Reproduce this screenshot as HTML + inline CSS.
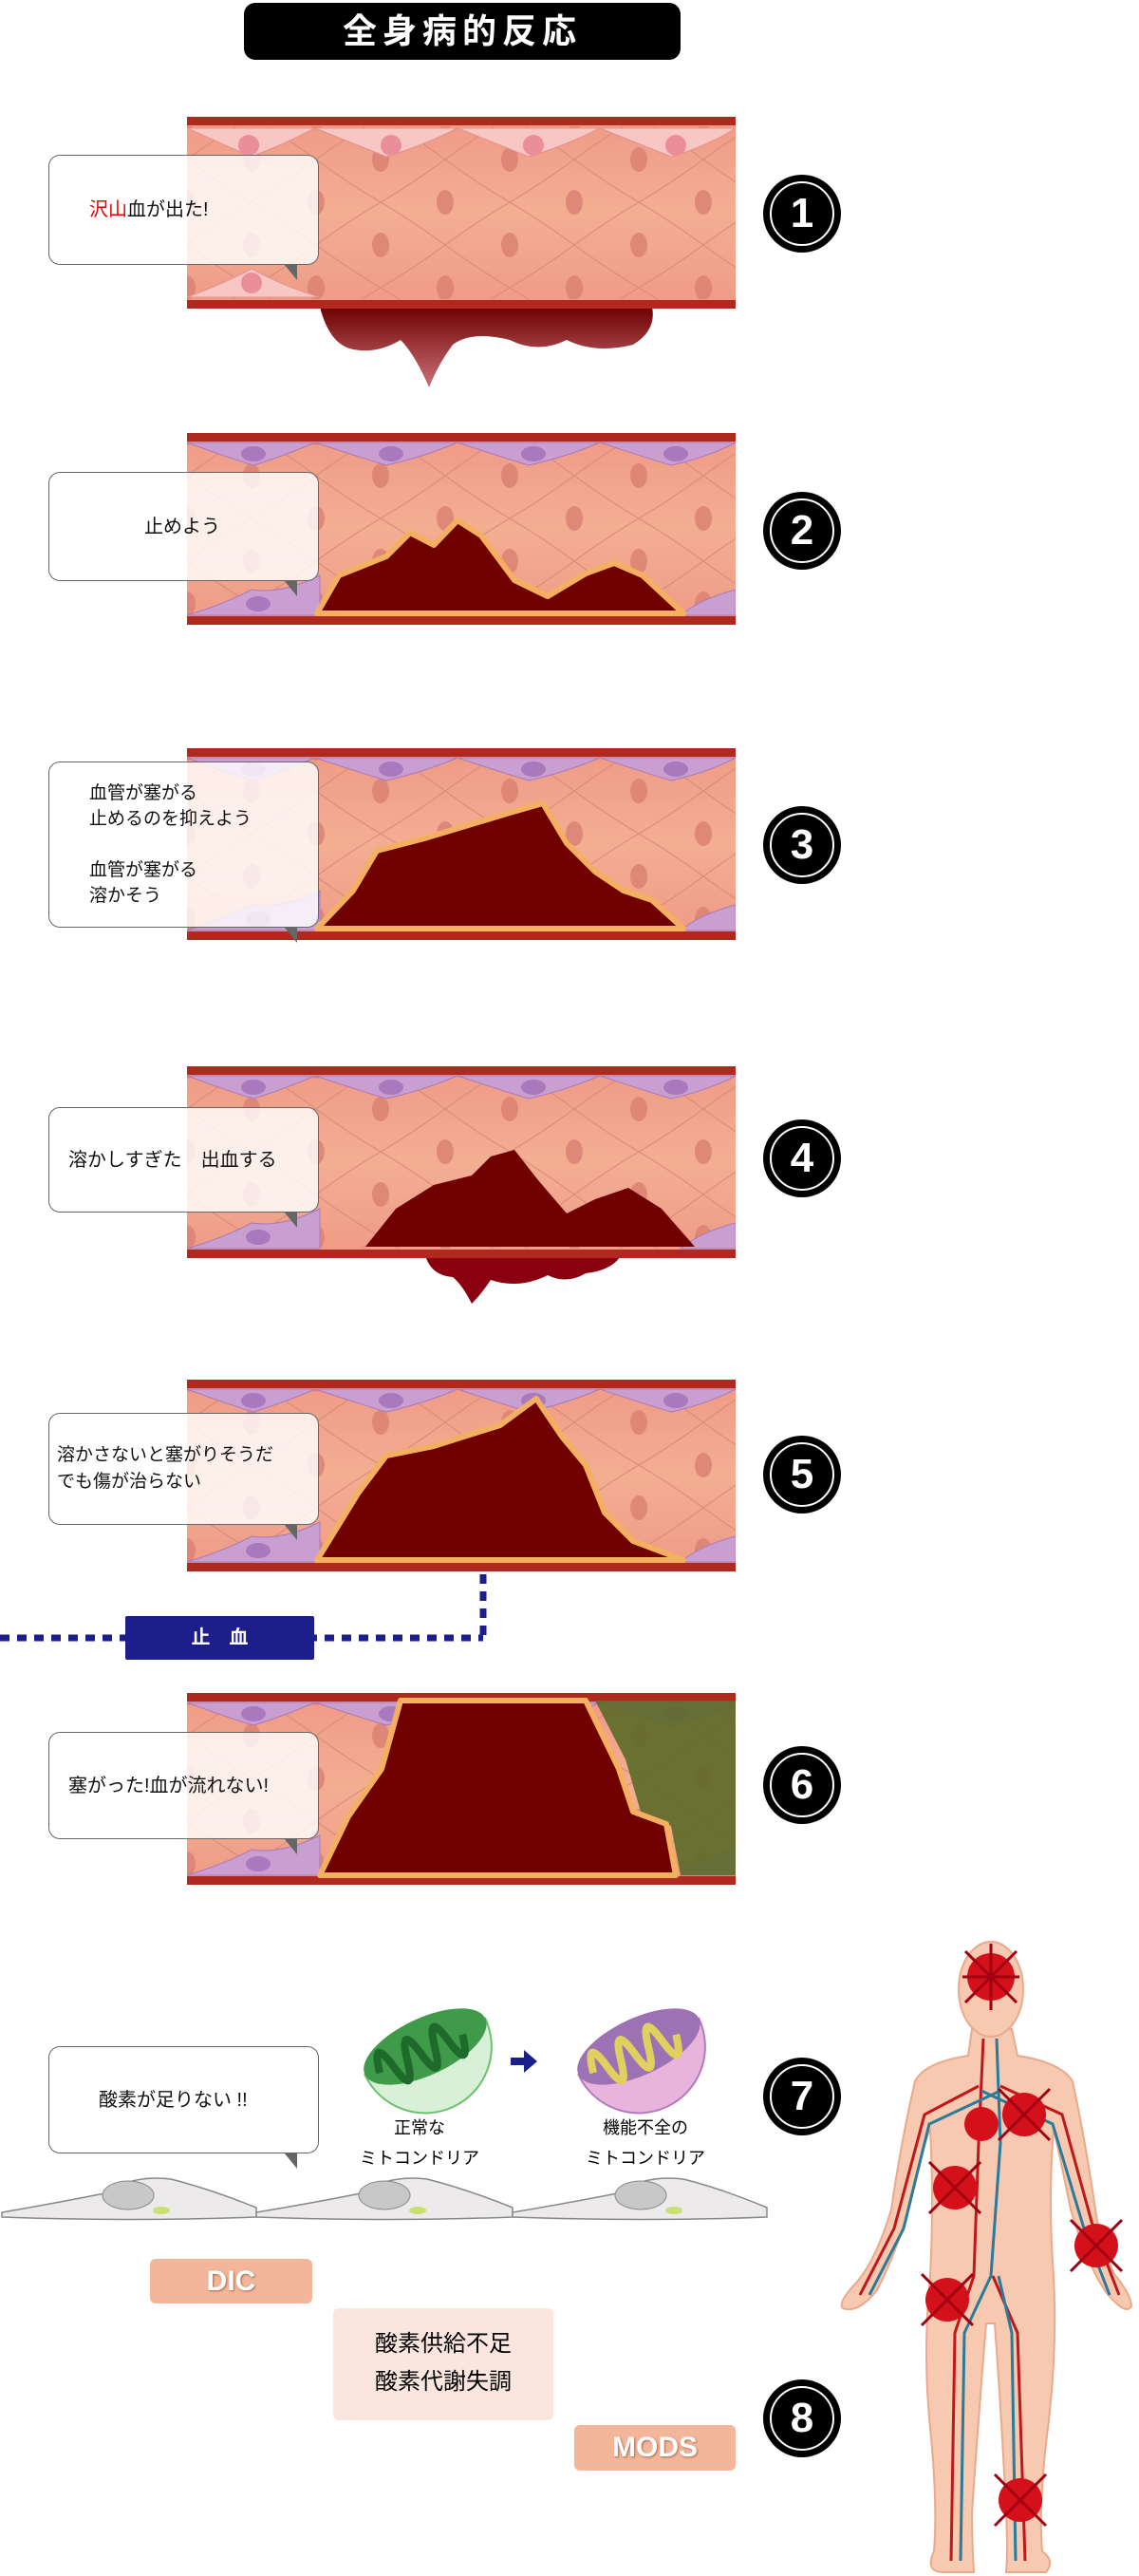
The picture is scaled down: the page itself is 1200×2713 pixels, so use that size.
<!DOCTYPE html>
<html><head><meta charset="utf-8">
<style>
body{margin:0;width:1200px;height:2713px;background:#fff;position:relative;overflow:hidden;font-family:"Liberation Sans","Noto Sans CJK JP",sans-serif;}
.abs{position:absolute}
.title{left:257px;top:3px;width:460px;height:60px;background:#000;border-radius:12px;color:#fff;font-size:36px;font-weight:bold;text-align:center;line-height:60px;letter-spacing:6px}
.v{position:absolute;left:197px;width:578px;height:202px}
.bub{position:absolute;left:51px;width:285px;background:rgba(255,255,255,0.82);border:1.5px solid #666;border-radius:12px;font-size:20px;color:#111;display:flex;align-items:center;box-sizing:border-box;padding-left:20px;line-height:28px}
.bub:after{content:"";position:absolute;right:22px;bottom:-17px;width:0;height:0;border-left:14px solid transparent;border-top:17px solid #666}
.num{position:absolute;left:804px;width:82px;height:82px;border-radius:50%;background:#000}
.num div{position:absolute;left:7px;top:7px;width:64px;height:64px;border:2px solid #fff;border-radius:50%;color:#fff;font-size:44px;font-weight:bold;text-align:center;line-height:64px}
.tag{position:absolute;background:#f3b69b;color:#fff;font-weight:bold;font-size:30px;text-align:center;border-radius:6px;text-shadow:1px 1px 2px #a06a50}
</style></head><body>
<svg width="0" height="0" style="position:absolute">
<defs>
<linearGradient id="vg" x1="0" y1="0" x2="0" y2="1"><stop offset="0" stop-color="#ef9a86"/><stop offset="0.5" stop-color="#f3ae92"/><stop offset="1" stop-color="#ef9a86"/></linearGradient>
<pattern id="lat" width="136" height="90" patternUnits="userSpaceOnUse"><path d="M0 45 Q34 20 68 0 M68 0 Q102 20 136 45 M0 45 Q34 70 68 90 M68 90 Q102 70 136 45" fill="none" stroke="#d98a78" stroke-width="1.2"/><ellipse cx="68" cy="45" rx="9" ry="13" fill="#dc8474"/><ellipse cx="0" cy="0" rx="9" ry="13" fill="#dc8474"/><ellipse cx="136" cy="0" rx="9" ry="13" fill="#dc8474"/><ellipse cx="0" cy="90" rx="9" ry="13" fill="#dc8474"/><ellipse cx="136" cy="90" rx="9" ry="13" fill="#dc8474"/></pattern>
<symbol id="bg" viewBox="0 0 578 202"><rect width="578" height="202" fill="url(#vg)"/><rect y="10" width="578" height="182" fill="url(#lat)" opacity="0.9"/><rect width="578" height="9" fill="#b0291f"/><rect y="193" width="578" height="9" fill="#b0291f"/></symbol>
<symbol id="pink" viewBox="0 0 578 202">
<g fill="#f7c7c4" stroke="#e58f8f" stroke-width="1"><path d="M0 12 Q40 30 68 42 Q100 30 135 12Z"/><path d="M135 12 Q180 30 210 42 Q250 30 285 12Z"/><path d="M285 12 Q330 30 360 42 Q400 30 435 12Z"/><path d="M435 12 Q480 30 510 42 Q550 30 578 12Z"/><path d="M0 190 Q40 175 68 160 Q100 178 140 190Z"/></g>
<g fill="#ea8e9a"><circle cx="65" cy="30" r="11"/><circle cx="215" cy="30" r="11"/><circle cx="365" cy="30" r="11"/><circle cx="515" cy="30" r="11"/><circle cx="68" cy="175" r="11"/></g></symbol>
<symbol id="purp" viewBox="0 0 578 202">
<g fill="#c99fd2" stroke="#a979b8" stroke-width="1"><path d="M0 10 Q40 25 70 34 Q100 25 135 10Z"/><path d="M135 10 Q180 25 210 34 Q250 25 285 10Z"/><path d="M285 10 Q330 25 360 34 Q400 25 435 10Z"/><path d="M435 10 Q480 25 510 34 Q550 25 578 10Z"/><path d="M0 192 Q40 180 68 165 Q100 170 140 150 L140 192Z"/><path d="M520 192 Q540 175 578 165 L578 192Z"/></g>
<g fill="#a978bd"><ellipse cx="70" cy="22" rx="13" ry="8"/><ellipse cx="215" cy="22" rx="13" ry="8"/><ellipse cx="365" cy="22" rx="13" ry="8"/><ellipse cx="515" cy="22" rx="13" ry="8"/><ellipse cx="75" cy="180" rx="13" ry="8"/></g></symbol>
</defs></svg>

<div class="abs title">全身病的反応</div>

<!-- panel 1 -->
<svg class="v" style="top:123px;height:290px" viewBox="0 0 578 290">
<defs><linearGradient id="bl" x1="0" y1="0" x2="0" y2="1"><stop offset="0" stop-color="#6a0000"/><stop offset="1" stop-color="#a0101a" stop-opacity="0.6"/></linearGradient></defs>
<path d="M140 200 L490 200 Q495 225 470 240 Q430 250 400 235 Q370 250 340 235 Q300 225 280 240 Q265 260 255 285 Q240 250 225 235 Q200 250 175 245 Q150 240 140 200Z" fill="url(#bl)"/>
<use href="#bg" width="578" height="202"/><use href="#pink" width="578" height="202"/></svg>
<div class="bub" style="top:163px;height:116px"><span style="margin-left:22px"><span style="color:#e00">沢山</span>血が出た!</span></div>
<div class="num" style="top:184px"><div>1</div></div>

<!-- panel 2 -->
<svg class="v" style="top:456px" viewBox="0 0 578 202"><use href="#bg" width="578" height="202"/><use href="#purp" width="578" height="202"/>
<path d="M137 190 L160 150 L210 130 L235 105 L260 118 L285 92 L310 108 L345 155 L380 172 L420 148 L450 137 L480 150 L523 190Z" fill="#700000" stroke="#f4b060" stroke-width="6" stroke-linejoin="round"/></svg>
<div class="bub" style="top:497px;height:115px;padding-left:100px">止めよう</div>
<div class="num" style="top:518px"><div>2</div></div>

<!-- panel 3 -->
<svg class="v" style="top:788px" viewBox="0 0 578 202"><use href="#bg" width="578" height="202"/><use href="#purp" width="578" height="202"/>
<path d="M137 190 L175 150 L200 108 L250 95 L300 80 L340 68 L375 58 L400 100 L430 130 L460 150 L490 160 L523 190Z" fill="#700000" stroke="#f4b060" stroke-width="6" stroke-linejoin="round"/></svg>
<div class="bub" style="top:802px;height:175px;padding-left:42px;font-size:19px;line-height:27px">血管が塞がる<br>止めるのを抑えよう<br><br>血管が塞がる<br>溶かそう</div>
<div class="num" style="top:849px"><div>3</div></div>

<!-- panel 4 -->
<svg class="v" style="top:1123px;height:260px" viewBox="0 0 578 260">
<path d="M250 195 L460 195 Q450 215 420 218 Q400 230 380 220 Q350 235 320 225 Q310 240 300 250 Q290 230 280 222 Q255 220 250 195Z" fill="#8a0010"/>
<use href="#bg" width="578" height="202"/><use href="#purp" width="578" height="202"/>
<path d="M188 190 L220 150 L260 125 L300 115 L320 95 L345 88 L370 120 L400 155 L430 140 L465 128 L500 150 L535 190Z" fill="#700000"/></svg>
<div class="bub" style="top:1166px;height:111px;padding-left:20px">溶かしすぎた　出血する</div>
<div class="num" style="top:1179px"><div>4</div></div>

<!-- panel 5 -->
<svg class="v" style="top:1453px" viewBox="0 0 578 202"><use href="#bg" width="578" height="202"/><use href="#purp" width="578" height="202"/>
<path d="M137 190 L180 120 L210 80 L260 70 L330 48 L368 20 L395 60 L420 90 L440 140 L470 170 L523 190Z" fill="#700000" stroke="#f4b060" stroke-width="6" stroke-linejoin="round"/></svg>
<div class="bub" style="top:1488px;height:118px;padding-left:8px;font-size:19px">溶かさないと塞がりそうだ<br>でも傷が治らない</div>
<div class="num" style="top:1512px"><div>5</div></div>

<!-- hemostasis -->
<svg class="abs" style="left:0;top:1650px" width="600" height="110"><path d="M509 8 V75 M0 75 H509" fill="none" stroke="#1a1f8a" stroke-width="7" stroke-dasharray="10 8"/></svg>
<div class="abs" style="left:132px;top:1702px;width:199px;height:46px;background:#1c1e8c;color:#fff;font-size:20px;text-align:center;line-height:46px;font-weight:bold;border-radius:2px">止　血</div>

<!-- panel 6 -->
<svg class="v" style="top:1783px" viewBox="0 0 578 202"><use href="#bg" width="578" height="202"/><use href="#purp" width="578" height="202"/>
<path d="M430 8 L578 8 L578 192 L520 192 L510 140 L478 125 L462 70Z" fill="#5e6a2a" opacity="0.92"/>
<path d="M140 192 L170 130 L205 80 L225 8 L420 8 L455 80 L470 125 L505 138 L515 192Z" fill="#700000" stroke="#f4b060" stroke-width="6" stroke-linejoin="round"/></svg>
<div class="bub" style="top:1824px;height:113px;padding-left:20px">塞がった!血が流れない!</div>
<div class="num" style="top:1839px"><div>6</div></div>

<!-- panel 7 -->
<div class="bub" style="top:2155px;height:113px;padding-left:52px">酸素が足りない !!</div>
<svg class="abs" style="left:0;top:2290px" width="820" height="70">
<g fill="#eceaea" stroke="#888" stroke-width="1.5"><path d="M2 40 Q60 30 110 20 Q140 0 180 5 Q220 15 270 35 L270 45 Q140 50 2 45Z"/><path d="M270 40 Q330 30 380 20 Q410 0 450 5 Q490 15 540 35 L540 45 Q410 50 270 45Z"/><path d="M540 40 Q600 30 650 20 Q680 0 720 5 Q760 15 808 35 L808 45 Q680 50 540 45Z"/></g>
<g fill="#c8c8c8" stroke="#888"><ellipse cx="135" cy="22" rx="27" ry="15"/><ellipse cx="405" cy="22" rx="27" ry="15"/><ellipse cx="675" cy="22" rx="27" ry="15"/></g>
<g fill="#c8e070"><ellipse cx="170" cy="38" rx="9" ry="4"/><ellipse cx="440" cy="38" rx="9" ry="4"/><ellipse cx="710" cy="38" rx="9" ry="4"/></g></svg>
<svg class="abs" style="left:370px;top:2085px" width="380" height="150">
<g transform="rotate(-25 80 75)"><path d="M10 70 A70 70 0 0 0 150 70 Z" fill="#d8f0d8" stroke="#6cbf6c" stroke-width="2"/><ellipse cx="80" cy="70" rx="70" ry="30" fill="#3f9a4a"/><path d="M25 75 q8 -40 16 0 q8 40 16 0 q8 -40 16 0 q8 40 16 0 q8 -40 16 0 q8 40 16 0" fill="none" stroke="#1e6a2a" stroke-width="8"/></g>
<path d="M168 82 h14 v-8 l14 12 l-14 12 v-8 h-14z" fill="#1a1f8a"/>
<g transform="translate(225 0) rotate(-25 80 75)"><path d="M10 70 A70 70 0 0 0 150 70 Z" fill="#e9b4dc" stroke="#b07ac0" stroke-width="2"/><ellipse cx="80" cy="70" rx="70" ry="30" fill="#9c72b4"/><path d="M25 75 q8 -40 16 0 q8 40 16 0 q8 -40 16 0 q8 40 16 0 q8 -40 16 0 q8 40 16 0" fill="none" stroke="#e0d060" stroke-width="8"/></g></svg>
<div class="abs" style="left:362px;top:2225px;width:160px;text-align:center;font-size:18px;line-height:32px">正常な<br>ミトコンドリア</div>
<div class="abs" style="left:590px;top:2225px;width:180px;text-align:center;font-size:18px;line-height:32px">機能不全の<br>ミトコンドリア</div>
<div class="num" style="top:2167px"><div>7</div></div>

<div class="tag" style="left:158px;top:2379px;width:171px;height:47px;line-height:47px">DIC</div>
<div class="abs" style="left:351px;top:2431px;width:232px;height:118px;background:#fbe6df;border-radius:6px;font-size:24px;text-align:center;line-height:40px;padding-top:18px;box-sizing:border-box">酸素供給不足<br>酸素代謝失調</div>
<div class="tag" style="left:605px;top:2554px;width:170px;height:48px;line-height:48px">MODS</div>
<div class="num" style="top:2506px"><div>8</div></div>

<!-- human -->
<svg class="abs" style="left:874px;top:1997px" width="326" height="716" viewBox="0 0 326 716">
<path d="M150 140 L146 168 Q100 175 90 195 Q75 260 65 330 Q50 380 30 405 Q8 428 14 434 Q30 440 50 415 Q78 360 90 300 Q98 265 106 245 Q110 320 106 400 Q98 480 106 560 Q114 640 110 690 Q100 712 120 712 L152 712 Q150 680 150 650 Q156 560 165 450 L174 450 Q182 560 186 650 Q188 690 186 712 L228 712 Q238 700 224 690 Q220 640 230 560 Q240 480 236 400 Q230 320 236 245 Q244 280 254 330 Q272 390 292 418 Q312 442 318 432 Q318 420 300 398 Q286 370 280 330 Q270 260 256 195 Q244 175 198 168 L192 140 Z" fill="#f7c9b0" stroke="#e9a98c" stroke-width="2"/>
<ellipse cx="170" cy="98" rx="34" ry="50" fill="#f7c9b0" stroke="#e9a98c" stroke-width="2"/>
<g fill="none" stroke-width="3"><path d="M162 150 L157 260 L152 400 L132 460 L128 700 M157 200 L100 230 L68 350 L32 420 M180 200 L245 230 L278 350 L305 420 M172 400 L198 460 L206 700" stroke="#c01818"/><path d="M176 150 L180 260 L170 400 L142 460 L138 700 M180 205 L105 240 L78 350 L42 420 M160 205 L235 240 L268 350 L295 420 M178 400 L192 460 L196 700" stroke="#2a7a9a"/></g>
<g fill="#d4101a"><circle cx="170" cy="85" r="25"/><circle cx="205" cy="230" r="23"/><circle cx="160" cy="240" r="18"/><circle cx="132" cy="307" r="23"/><circle cx="281" cy="368" r="23"/><circle cx="124" cy="425" r="23"/><circle cx="201" cy="636" r="23"/></g>
<g stroke="#a00010" stroke-width="3"><path d="M143 58 L197 112 M197 58 L143 112 M170 50 V120 M140 85 H200 M178 203 L232 257 M232 203 L178 257 M105 280 L159 334 M159 280 L105 334 M254 341 L308 395 M308 341 L254 395 M97 398 L151 452 M151 398 L97 452 M174 609 L228 663 M228 609 L174 663"/></g>
</svg>
</body></html>
